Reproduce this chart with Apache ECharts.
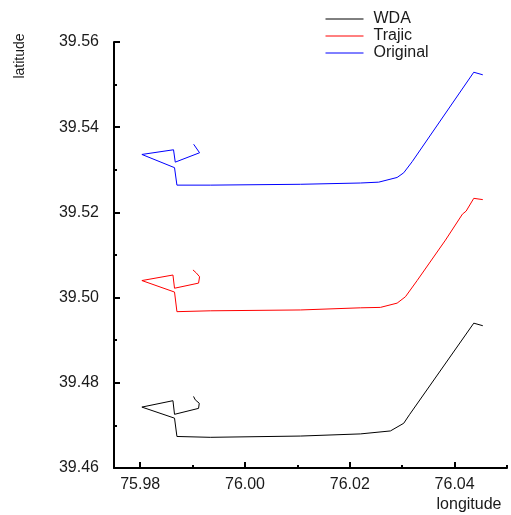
<!DOCTYPE html>
<html>
<head>
<meta charset="utf-8">
<script src="https://cdn.jsdelivr.net/npm/echarts@6/dist/echarts.min.js"></script>
<style>html,body{margin:0;padding:0;background:#fff}#c{width:511px;height:515px}</style>
</head>
<body>
<div id="c"></div>
<script>
var seriesNames = ['WDA', 'Trajic', 'Original'];
var seriesColors = ['#000000', '#ff0000', '#0000ff'];

var wdaLon = [75.99018, 75.99051, 75.99127, 75.99114, 75.98655, 75.98625, 75.98032, 75.98655, 75.98701, 75.99337, 76.01056, 76.02202, 76.02775, 76.03029, 76.03138, 76.04366, 76.04538];
var wdaLat = [39.4768, 39.4760, 39.4752, 39.4740, 39.4726, 39.4758, 39.4743, 39.4717, 39.4674, 39.4672, 39.4675, 39.4680, 39.4687, 39.4705, 39.4725, 39.4940, 39.4934];

var trajicLon = [75.99007, 75.99070, 75.99133, 75.99114, 75.98655, 75.98625, 75.98032, 75.98655, 75.98701, 75.99337, 76.01056, 76.02202, 76.02584, 76.02903, 76.03062, 76.03285, 76.03826, 76.04150, 76.04220, 76.04366, 76.04538];
var trajicLat = [39.5065, 39.5058, 39.5049, 39.5034, 39.5022, 39.5053, 39.5040, 39.5013, 39.4967, 39.4969, 39.4971, 39.4976, 39.4977, 39.4987, 39.5002, 39.5040, 39.5135, 39.5196, 39.5203, 39.5233, 39.5230];

var origLon = [75.9902, 75.99133, 75.98669, 75.98636, 75.98032, 75.98655, 75.98701, 75.99337, 76.01056, 76.02202, 76.02552, 76.02903, 76.03029, 76.0319, 76.04366, 76.04538];
var origLat = [39.5360, 39.5340, 39.5318, 39.5347, 39.5336, 39.5305, 39.5264, 39.5264, 39.5266, 39.5269, 39.5271, 39.5282, 39.5293, 39.5319, 39.5529, 39.5523];

var xMajorTicks = [75.98, 76.00, 76.02, 76.04];
var xMinorTicks = [75.99, 76.01, 76.03, 76.05];

function pairs(lon, lat) {
  var out = [];
  for (var i = 0; i < lon.length; i++) out.push([lon[i], lat[i]]);
  return out;
}
var allLon = [wdaLon, trajicLon, origLon];
var allLat = [wdaLat, trajicLat, origLat];

var FONT = 'Liberation Sans, Arial, sans-serif';
var chart = echarts.init(document.getElementById('c'), null, {renderer: 'canvas'});
var axisLineStyle = {color: '#000', width: 2};

var option = {
  backgroundColor: '#fff',
  animation: false,
  grid: {left: 114, right: 4, top: 42, bottom: 47, containLabel: false, outerBoundsMode: 'none'},
  legend: {
    orient: 'vertical', left: 320, top: 6,
    itemWidth: 38, itemHeight: 12, itemGap: 1,
    itemStyle: {opacity: 0},
    lineStyle: {width: 1},
    textStyle: {fontFamily: FONT, fontSize: 16, lineHeight: 16, color: '#1a1a1a', padding: [0,0,0,5]},
    data: seriesNames.map(function (n) { return {name: n}; })
  },
  xAxis: [{
    type: 'value', min: 75.975, max: 76.05, position: 'bottom',
    axisLine: {show: true, onZero: false, lineStyle: axisLineStyle},
    axisTick: {show: true, inside: true, length: 6, lineStyle: {color: '#000', width: 2}, customValues: xMajorTicks},
    axisLabel: {show: true, customValues: xMajorTicks, margin: 9, fontFamily: FONT, fontSize: 16, color: '#1a1a1a',
      formatter: function (v) { return v.toFixed(2); }},
    splitLine: {show: false}
  }, {
    type: 'value', min: 75.975, max: 76.05, position: 'bottom', gridIndex: 0,
    axisLine: {show: false, onZero: false},
    axisTick: {show: true, inside: true, length: 3, lineStyle: {color: '#000', width: 2}, customValues: xMinorTicks},
    axisLabel: {show: false},
    splitLine: {show: false}
  }],
  yAxis: {
    type: 'value', min: 39.46, max: 39.56, interval: 0.02,
    axisLine: {show: true, onZero: false, lineStyle: axisLineStyle},
    axisTick: {show: true, inside: true, length: 6, lineStyle: {color: '#000', width: 2}},
    minorTick: {show: true, splitNumber: 2, length: 3, lineStyle: {color: '#000', width: 2}},
    axisLabel: {margin: 15, fontFamily: FONT, fontSize: 16, color: '#1a1a1a',
      formatter: function (v) { return v.toFixed(2); }},
    splitLine: {show: false}
  },
  graphic: [
    {type: 'text', x: 20, y: 56, rotation: Math.PI / 2,
      style: {text: 'latitude', fontFamily: FONT, fontSize: 14, fill: '#1a1a1a', align: 'center', verticalAlign: 'middle'}},
    {type: 'text', x: 469, y: 505,
      style: {text: 'longitude', fontFamily: FONT, fontSize: 16, fill: '#1a1a1a', align: 'center', verticalAlign: 'middle'}}
  ],
  series: seriesNames.map(function (n, i) {
    return {
      name: n, type: 'line', xAxisIndex: 0, yAxisIndex: 0,
      symbol: 'none', showSymbol: false, smooth: false,
      color: seriesColors[i],
      lineStyle: {color: seriesColors[i], width: 1},
      data: pairs(allLon[i], allLat[i])
    };
  })
};
chart.setOption(option);
</script>
</body>
</html>
